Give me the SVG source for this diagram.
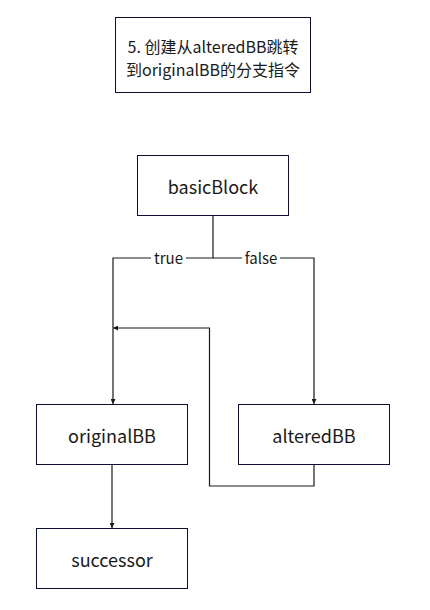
<svg xmlns="http://www.w3.org/2000/svg" width="430" height="610" viewBox="0 0 430 610">
<style>
.box{fill:#fff;stroke:#0c1035;stroke-width:1}
.t{font-family:"Noto Sans CJK SC","Noto Sans",sans-serif;font-size:18px;fill:#1a1a1a;text-anchor:middle;dominant-baseline:central}
.tt{font-family:"Noto Sans CJK SC","Noto Sans",sans-serif;font-size:16px;fill:#1a1a1a;text-anchor:middle;dominant-baseline:central}
.lbl{font-family:"Noto Sans CJK SC","Noto Sans",sans-serif;font-size:15px;fill:#1a1a1a;text-anchor:middle;dominant-baseline:central}
.c{fill:none;stroke:#1a1a1a;stroke-width:1.2}
</style>
<defs>
<marker id="a" viewBox="0 0 10 10" refX="10" refY="5" markerWidth="5" markerHeight="5" orient="auto" markerUnits="userSpaceOnUse">
<path d="M0,0L10,5L0,10z" fill="#1a1a1a"/>
</marker>
</defs>
<rect width="430" height="610" fill="#fff"/>
<g id="title">
<rect class="box" x="115.5" y="17.5" width="195" height="75"/>
<text class="tt" x="213" y="46">5. 创建从alteredBB跳转</text>
<text class="tt" x="213" y="69">到originalBB的分支指令</text>
</g>
<g id="connectors">
<path class="c" d="M213,215V258H113V404" marker-end="url(#a)"/>
<path class="c" d="M213,258H314V404" marker-end="url(#a)"/>
<path class="c" d="M314,465V486H209.5V328H113" marker-end="url(#a)"/>
<path class="c" d="M112,465V528" marker-end="url(#a)"/>
<rect x="151" y="249" width="35" height="18" fill="#fff"/>
<text class="lbl" x="168.5" y="257.5">true</text>
<rect x="242" y="249" width="38" height="18" fill="#fff"/>
<text class="lbl" x="261" y="257.5">false</text>
</g>
<g id="basicBlock">
<rect class="box" x="137.5" y="155.5" width="151" height="60"/>
<text class="t" x="213" y="185.5">basicBlock</text>
</g>
<g id="originalBB">
<rect class="box" x="36.5" y="404.5" width="151" height="60"/>
<text class="t" x="112" y="434.5">originalBB</text>
</g>
<g id="alteredBB">
<rect class="box" x="238.5" y="404.5" width="151" height="60"/>
<text class="t" x="314" y="434.5">alteredBB</text>
</g>
<g id="successor">
<rect class="box" x="36.5" y="528.5" width="151" height="60"/>
<text class="t" x="112" y="558.5">successor</text>
</g>
</svg>
